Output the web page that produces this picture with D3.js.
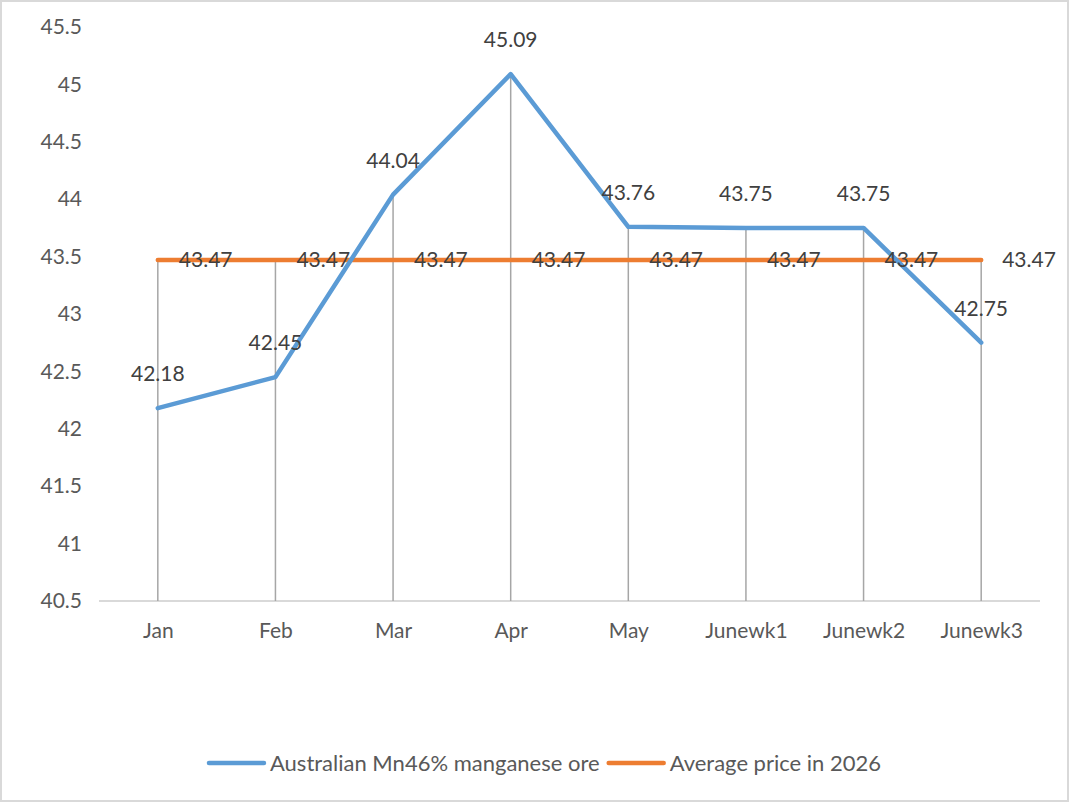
<!DOCTYPE html>
<html>
<head>
<meta charset="utf-8">
<script src="https://cdn.jsdelivr.net/npm/d3@7"></script>
<style>
  body { margin: 0; background: #fff; }
  svg text { font-family: Lato, "Open Sans", sans-serif; font-size: 21px; }
  .legend text { font-size: 22px; }
</style>
</head>
<body>
<script>
(function(){
  //chart data
  var categories = ["Jan", "Feb", "Mar", "Apr", "May", "Junewk1", "Junewk2", "Junewk3"];
  var oreValues = [42.18, 42.45, 44.04, 45.09, 43.76, 43.75, 43.75, 42.75];
  var avgValues = [43.47, 43.47, 43.47, 43.47, 43.47, 43.47, 43.47, 43.47];
  var yTicks = [40.5, 41, 41.5, 42, 42.5, 43, 43.5, 44, 44.5, 45, 45.5];
  var seriesNames = ["Australian Mn46% manganese ore", "Average price in 2026"];

  var width = 1069, height = 802;
  var textColor = "#404040", tickColor = "#595959";
  var blue = "#5b9bd5", orange = "#ed7d31";

  var svg = d3.select("body").append("svg")
      .attr("width", width)
      .attr("height", height);

  //chart border
  svg.append("rect")
      .attr("x", 1).attr("y", 1)
      .attr("width", width - 2).attr("height", height - 2)
      .attr("fill", "#fff")
      .attr("stroke", "#d9d9d9")
      .attr("stroke-width", 2);

  var xScale = d3.scalePoint()
      .domain(categories)
      .range([99, 1040])
      .padding(0.5);

  var yScale = d3.scaleLinear()
      .domain([40.5, 45.5])
      .range([601, 27]);

  //y axis labels
  var yAxis = svg.append("g")
      .call(d3.axisLeft(yScale).tickValues(yTicks).tickSize(0).tickPadding(0).tickFormat(d3.format("")))
      .attr("transform", "translate(82,0)")
      .call(function(g){
        g.select(".domain").remove();
        g.selectAll("text").attr("fill", tickColor);
      });
  yAxis.attr("font-family", null).attr("font-size", null);

  //x axis line and labels
  var xAxis = svg.append("g")
      .attr("transform", "translate(0," + yScale(40.5) + ")")
      .call(d3.axisBottom(xScale).tickSize(0).tickPadding(22))
      .call(function(g){
        g.select(".domain").attr("stroke", "#d9d9d9").attr("stroke-width", 2)
          .attr("d", "M99,0H1040");
        g.selectAll("text").attr("fill", tickColor);
      });
  xAxis.attr("font-family", null).attr("font-size", null);

  //drop lines from the highest point down to the axis
  svg.append("g").selectAll("line")
      .data(categories)
      .enter()
      .append("line")
      .attr("x1", function(d){ return xScale(d); })
      .attr("x2", function(d){ return xScale(d); })
      .attr("y1", function(d, i){ return yScale(Math.max(oreValues[i], avgValues[i])); })
      .attr("y2", yScale(40.5))
      .attr("stroke", "#a6a6a6")
      .attr("stroke-width", 1.5);

  var line = d3.line()
      .x(function(d, i){ return xScale(categories[i]); })
      .y(function(d){ return yScale(d); });

  svg.append("path")
      .datum(avgValues)
      .attr("d", line)
      .attr("fill", "none")
      .attr("stroke", orange)
      .attr("stroke-width", 4.5)
      .attr("stroke-linecap", "round");

  svg.append("path")
      .datum(oreValues)
      .attr("d", line)
      .attr("fill", "none")
      .attr("stroke", blue)
      .attr("stroke-width", 4.5)
      .attr("stroke-linecap", "round")
      .attr("stroke-linejoin", "round");

  //data labels
  svg.append("g").selectAll("text")
      .data(avgValues)
      .enter()
      .append("text")
      .attr("x", function(d, i){ return xScale(categories[i]) + 21; })
      .attr("y", function(d){ return yScale(d); })
      .attr("dy", "0.35em")
      .attr("fill", textColor)
      .text(function(d){ return d.toFixed(2); });

  svg.append("g").selectAll("text")
      .data(oreValues)
      .enter()
      .append("text")
      .attr("x", function(d, i){ return xScale(categories[i]); })
      .attr("y", function(d){ return yScale(d) - 34; })
      .attr("dy", "0.35em")
      .attr("text-anchor", "middle")
      .attr("fill", textColor)
      .text(function(d){ return d.toFixed(2); });

  //legend, centred under the plot
  var legendColors = [blue, orange];
  var legend = svg.append("g").attr("class", "legend");
  var items = legend.selectAll("g")
      .data(seriesNames)
      .enter()
      .append("g");

  items.append("line")
      .attr("x1", 2).attr("x2", 57)
      .attr("stroke", function(d, i){ return legendColors[i]; })
      .attr("stroke-width", 4.5)
      .attr("stroke-linecap", "round");

  items.append("text")
      .attr("x", 63)
      .attr("dy", "0.35em")
      .attr("fill", tickColor)
      .text(function(d){ return d; });

  var offset = 0, widths = [];
  items.each(function(){
    widths.push(63 + d3.select(this).select("text").node().getComputedTextLength());
  });
  var total = d3.sum(widths) + 7;
  var startX = 544 - total / 2;
  items.attr("transform", function(d, i){
    var x = startX + offset;
    offset += widths[i] + 7;
    return "translate(" + x + ",763)";
  });
})();
</script>
</body>
</html>
